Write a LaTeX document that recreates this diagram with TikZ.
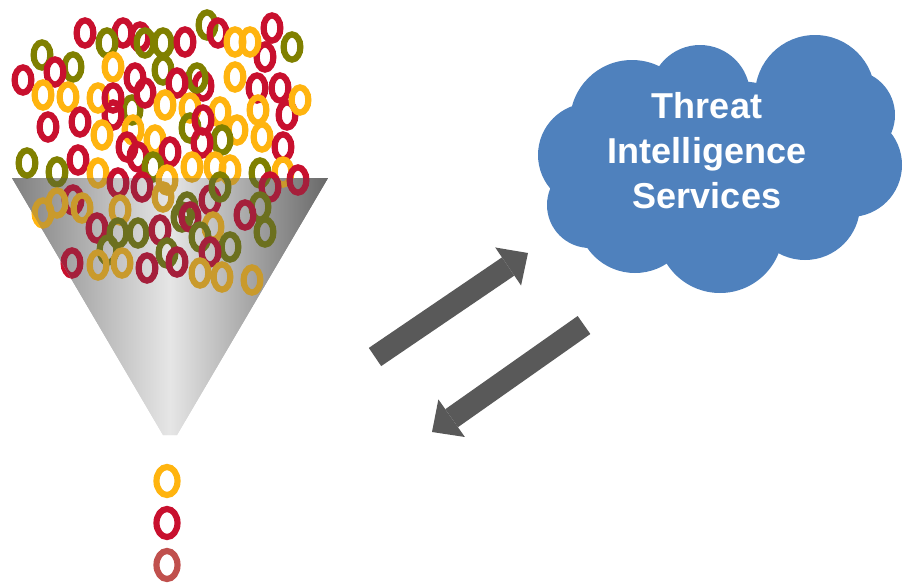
\documentclass[tikz,border=0pt]{standalone}
\usepackage{fontspec}
\setmainfont{Liberation Sans}
\usetikzlibrary{arrows.meta}

% palette
\definecolor{ryel}{HTML}{FFB40F}
\definecolor{rred}{HTML}{C8102E}
\definecolor{roli}{HTML}{808000}
\definecolor{rrose}{HTML}{C0504D}
\definecolor{dyel}{HTML}{C99A2C}
\definecolor{dred}{HTML}{A51F3B}
\definecolor{doli}{HTML}{6C701F}
\definecolor{funedge}{RGB}{128,128,128}
\definecolor{funmid}{RGB}{230,230,230}
\definecolor{funright}{RGB}{104,104,104}
\definecolor{cloudblue}{HTML}{4F81BD}
\definecolor{arrowgray}{HTML}{595959}

\tikzset{
  ring/.style={line width=6.2pt},
  % middle colour must come last, right colour resets it
  funnelshade/.style={left color=funedge, right color=funright, middle color=funmid},
  blockarrow/.style={draw=arrowgray, line width=22pt,
    -{Triangle[length=24pt,width=46pt,line width=0pt]}},
  cloudtext/.style={text=white, align=center,
    font=\fontsize{36}{45}\selectfont\bfseries},
}

% one small ring
\newcommand\rg[3]{\draw[ring,#1] (#2,#3) ellipse [x radius=8.4pt, y radius=12.6pt];}

% the heap of rings, drawn with the colours cy, cr, co
\newcommand\ringheap{%
  \rg{co}{207}{25} \rg{cr}{218}{33} \rg{cr}{85}{33} \rg{cr}{123}{33}
  \rg{cr}{140}{37} \rg{co}{107}{43} \rg{co}{145}{43} \rg{co}{163}{43}
  \rg{cr}{185}{42} \rg{cr}{265}{57} \rg{cy}{235}{42} \rg{cy}{250}{42}
  \rg{cr}{272}{28} \rg{co}{292}{47} \rg{co}{42}{55} \rg{co}{73}{67}
  \rg{cr}{55}{72} \rg{cr}{23}{80} \rg{cy}{113}{67} \rg{co}{163}{70}
  \rg{cr}{135}{78} \rg{cr}{203}{86} \rg{co}{197}{78} \rg{cr}{177}{83}
  \rg{cy}{235}{77}
  \rg{cr}{257}{88} \rg{cr}{280}{88} \rg{cr}{287}{115} \rg{cy}{300}{100}
  \rg{cy}{43}{95} \rg{cy}{68}{97} \rg{co}{132}{110} \rg{cr}{113}{115}
  \rg{cy}{98}{98} \rg{cr}{113}{98} \rg{cr}{145}{93} \rg{cy}{165}{105}
  \rg{cy}{190}{108} \rg{cy}{220}{112} \rg{cy}{258}{110}
  \rg{cr}{48}{127} \rg{cr}{80}{122} \rg{cy}{133}{130} \rg{cy}{102}{135}
  \rg{cy}{155}{140}
  \rg{co}{190}{128} \rg{cr}{203}{120} \rg{cy}{237}{130} \rg{co}{222}{140}
  \rg{cy}{262}{137} \rg{cr}{283}{147} \rg{cr}{127}{147} \rg{cr}{138}{157}
  \rg{cr}{170}{152} \rg{cr}{202}{143}
  \rg{co}{153}{167} \rg{co}{27}{163} \rg{cr}{78}{160} \rg{co}{57}{172}
  \rg{cy}{98}{173} \rg{cy}{192}{167} \rg{cy}{215}{167} \rg{cy}{230}{170}
  \rg{co}{260}{173} \rg{cy}{283}{172} \rg{cr}{298}{180} \rg{cy}{167}{180}
  \rg{cr}{118}{183} \rg{cr}{142}{187}
  \rg{cr}{73}{200} \rg{cy}{43}{213} \rg{cy}{57}{203} \rg{cy}{82}{208}
  \rg{cy}{120}{210} \rg{cr}{97}{228} \rg{cy}{163}{197} \rg{co}{187}{207}
  \rg{cr}{210}{200} \rg{co}{220}{187} \rg{cr}{270}{187} \rg{co}{260}{207}
  \rg{cr}{245}{215} \rg{co}{265}{232} \rg{co}{108}{250} \rg{co}{118}{233}
  \rg{co}{138}{233} \rg{cr}{160}{230} \rg{co}{182}{217} \rg{cr}{190}{217}
  \rg{cy}{213}{227} \rg{co}{200}{237} \rg{co}{230}{247} \rg{co}{167}{253}
  \rg{cr}{210}{252} \rg{cr}{177}{262} \rg{cr}{147}{268} \rg{cr}{72}{263}
  \rg{cy}{98}{265} \rg{cy}{122}{263} \rg{cy}{200}{273} \rg{cy}{222}{277}
  \rg{cy}{252}{280}
}

\begin{document}
\begin{tikzpicture}[x=1pt,y=-1pt]
  \useasboundingbox (0,0) rectangle (903,584);

  % funnel body
  \path[funnelshade] (12,178) -- (328,178) -- (177,435) -- (163,435) -- cycle;

  % rings, full colour
  \colorlet{cy}{ryel}\colorlet{cr}{rred}\colorlet{co}{roli}
  \ringheap

  % the part of the heap seen through the funnel is muted
  \begin{scope}
    \clip (12,178) -- (328,178) -- (177,435) -- (163,435) -- cycle;
    \path[funnelshade] (12,178) -- (328,178) -- (177,435) -- (163,435) -- cycle;
    \colorlet{cy}{dyel}\colorlet{cr}{dred}\colorlet{co}{doli}
    \ringheap
  \end{scope}

  % what comes out of the funnel
  \draw[ring,ryel]  (167,481) ellipse [x radius=10.5pt, y radius=14pt];
  \draw[ring,rred]  (167,523) ellipse [x radius=10.5pt, y radius=14pt];
  \draw[ring,rrose] (167,565) ellipse [x radius=10.5pt, y radius=14pt];

  % cloud
  \fill[cloudblue]
    (590,155) circle [radius=52pt]
    (632,122) circle [radius=62pt]
    (700,95)  circle [radius=50pt]
    (815,95)  circle [radius=60pt]
    (850,115) circle [radius=45pt]
    (850,165) circle [radius=52pt]
    (805,205) circle [radius=55pt]
    (720,230) circle [radius=63pt]
    (635,215) circle [radius=58pt]
    (590,205) circle [radius=43pt]
    (720,165) ellipse [x radius=140pt, y radius=85pt];
  \node[cloudtext] (ti) at (707,151) {Threat\\Intelligence\\Services};

  % exchange arrows
  \coordinate (upS) at (375,357);
  \coordinate (upE) at (528,253);
  \coordinate (dnS) at (584,325);
  \coordinate (dnE) at (432,432);
  \draw[blockarrow] (upS) -- (upE);
  \draw[blockarrow] (dnS) -- (dnE);
\end{tikzpicture}
\end{document}
